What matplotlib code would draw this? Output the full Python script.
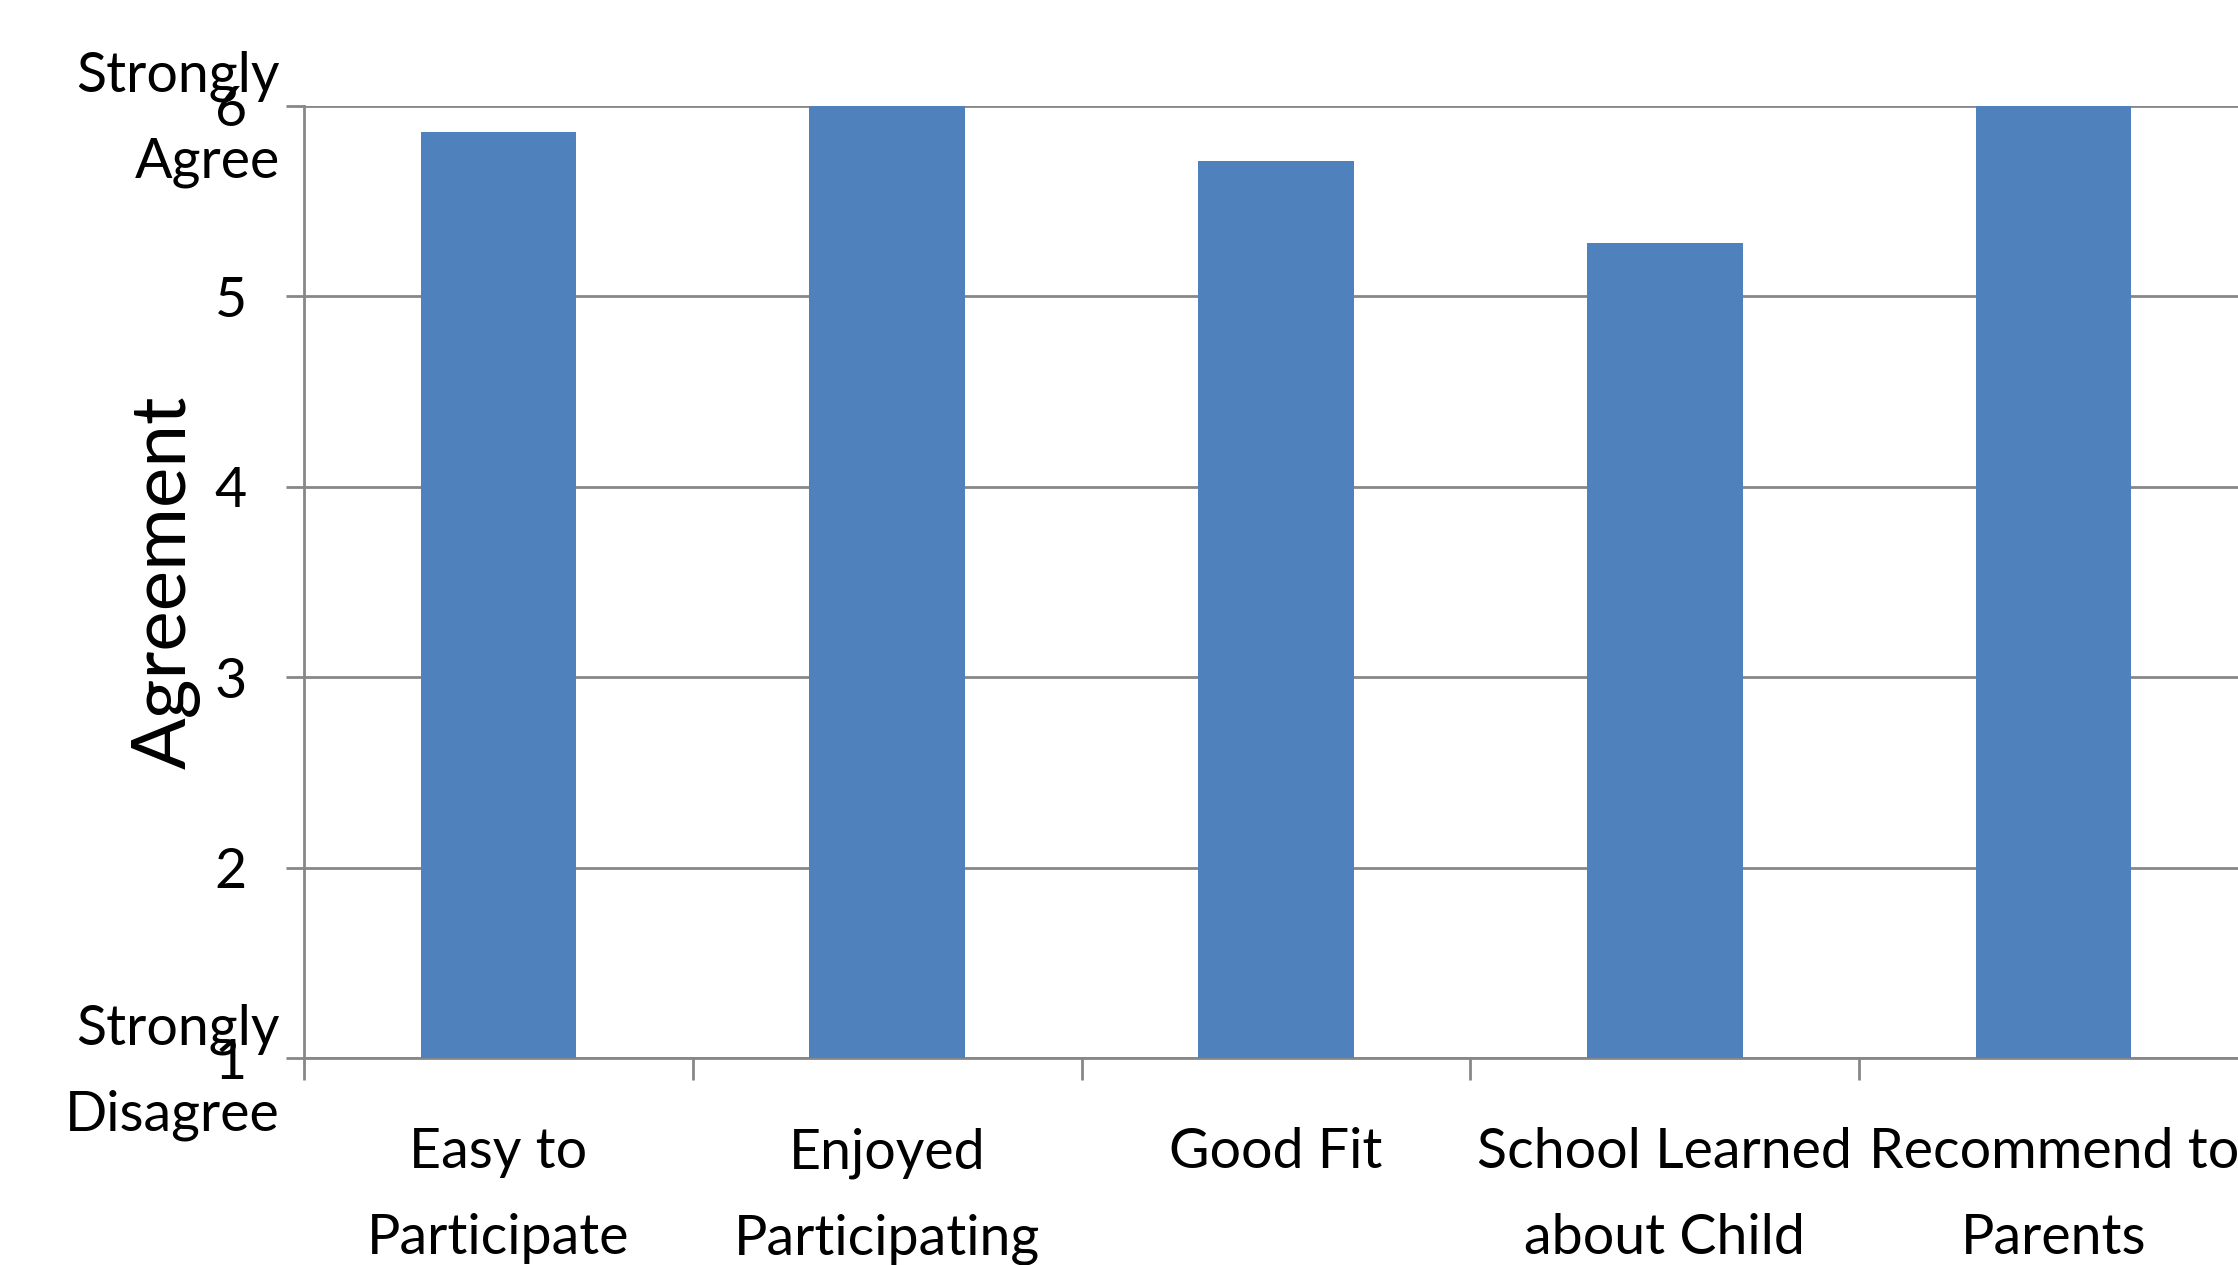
import matplotlib
matplotlib.use("Agg")
import matplotlib.pyplot as plt
import numpy as np

# ====== Data ======
categories = ["Easy to\nParticipate", "Enjoyed\nParticipating", "Good Fit",
              "School Learned\nabout Child", "Recommend to\nParents"]
agreement = [5.86, 6.0, 5.71, 5.28, 6.0]
y_ticks = [1, 2, 3, 4, 5, 6]

plt.rcParams['font.family'] = ['Lato', 'DejaVu Sans']

BAR = "#4F81BD"
GRID = "#878787"
FS = 40

fig = plt.figure(figsize=(22.38, 12.65), dpi=100)
ax = fig.add_axes([0.1358, 0.1636, 0.8687, 0.7529])

x = np.arange(len(categories))
ax.bar(x, agreement, width=0.4, color=BAR, zorder=3)

ax.set_xlim(-0.5, len(categories) - 0.5)
ax.set_ylim(1, 6)

# gridlines
ax.set_yticks(y_ticks)
ax.yaxis.grid(True, color=GRID, linewidth=2)
ax.set_axisbelow(True)
ax.tick_params(axis='y', length=13, width=2, color=GRID, pad=28, labelsize=FS)

# categories at centres, tick marks at boundaries
ax.set_xticks(x)
ax.set_xticklabels(categories, fontsize=FS, linespacing=1.85)
ax.tick_params(axis='x', which='major', length=0, pad=50)
ax.set_xticks(np.arange(-0.5, len(categories), 1), minor=True)
ax.tick_params(axis='x', which='minor', length=16, width=2, color=GRID)

for s in ['top', 'right']:
    ax.spines[s].set_visible(False)
for s in ['left', 'bottom']:
    ax.spines[s].set_color(GRID)
    ax.spines[s].set_linewidth(2)

# end labels on the scale
for yv, txt in [(6, "Strongly\nAgree"), (1, "Strongly\nDisagree")]:
    ax.annotate(txt, xy=(-0.562, yv), xytext=(0, -10), textcoords='offset points',
                ha='right', va='center', fontsize=FS, linespacing=1.85,
                annotation_clip=False)

ax.set_ylabel("Agreement", fontsize=55)
ax.yaxis.set_label_coords(-0.053, 0.5)

fig.savefig("out.png", dpi=100)
